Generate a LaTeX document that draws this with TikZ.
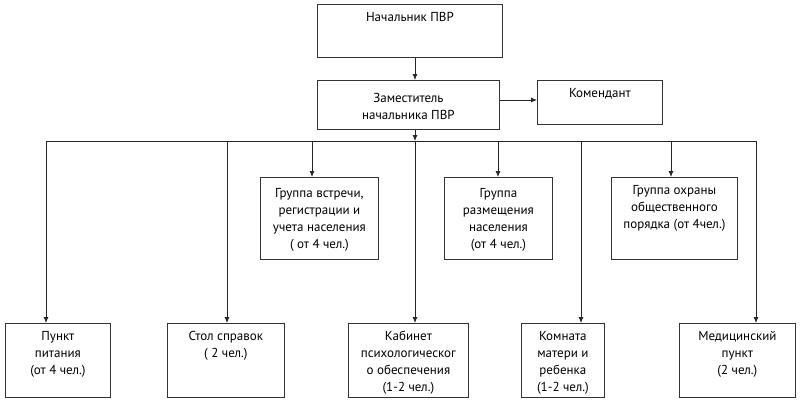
\documentclass[tikz,border=0pt]{standalone}
\usepackage{fontspec}
\setmainfont{PT Sans}
\usetikzlibrary{arrows.meta}
\tikzset{
  box/.style={draw=black!80, line width=0.8pt, inner sep=5pt, anchor=north west,
    font=\fontsize{13}{17}\selectfont},
  link/.style={draw=black!85, line width=0.8pt},
  arr/.style={link, -{Latex[length=6pt,width=5pt]}},
}
% text block of a box: [t] top aligned, [c] centred
\newcommand{\inbox}[4][t]{\parbox[c][#3][#1]{#2}{\centering\strut #4}}

\begin{document}
\begin{tikzpicture}[x=1pt, y=-1pt]
    \useasboundingbox (0,0) rectangle (800,405);

    % Head
    \node[box] (chief)  at (317,4)  {\inbox{175pt}{43pt}{Начальник ПВР}};
    \node[box] (deputy) at (317,80) {\inbox[c]{172pt}{39pt}{Заместитель\\начальника ПВР}};
    \node[box] (komend) at (537,80) {\inbox{115pt}{34pt}{Комендант}};

    % Groups
    \node[box] (vstr) at (260,177) {\inbox[c]{108pt}{72pt}{Группа встречи,\\регистрации и\\учета населения\\( от 4 чел.)}};
    \node[box] (razm) at (444,177) {\inbox[c]{98pt}{72pt}{Группа\\размещения\\населения\\(от 4 чел.)}};
    \node[box] (ohr)  at (611,177) {\inbox{116pt}{72pt}{Группа охраны\\общественного\\порядка (от 4чел.)}};

    % Points
    \node[box] (pitan) at (5,323)   {\inbox{95pt}{64pt}{Пункт\\питания\\(от 4 чел.)}};
    \node[box] (stol)  at (167,323) {\inbox{107pt}{64pt}{Стол справок\\( 2 чел.)}};
    \node[box] (kab)   at (348,323) {\inbox{110pt}{64pt}{Кабинет\\психологическог\\о обеспечения\\(1-2 чел.)}};
    \node[box] (komn)  at (521,323) {\inbox{73pt}{64pt}{Комната\\матери и\\ребенка\\(1-2 чел.)}};
    \node[box] (med)   at (679,323) {\inbox{106pt}{64pt}{Медицинский\\пункт\\(2 чел.)}};

    % Bus taps
    \foreach \n/\x in {pitan/46, stol/227, vstr/312, kab/415, razm/498, komn/581, ohr/671, med/756}
        \coordinate (t\n) at (\x,141);

    % Connectors
    \draw[arr] (chief.south -| tkab) -- (deputy.north -| tkab);
    \draw[arr] (deputy.east |- 0,100) -- (komend.west |- 0,100);
    \draw[arr] (deputy.south -| tkab) -- (tkab);
    \draw[link] (tpitan) -- (tmed);
    \foreach \n in {pitan, stol, vstr, kab, razm, komn, ohr, med}
        \draw[arr] (t\n) -- (t\n |- \n.north);
\end{tikzpicture}
\end{document}
